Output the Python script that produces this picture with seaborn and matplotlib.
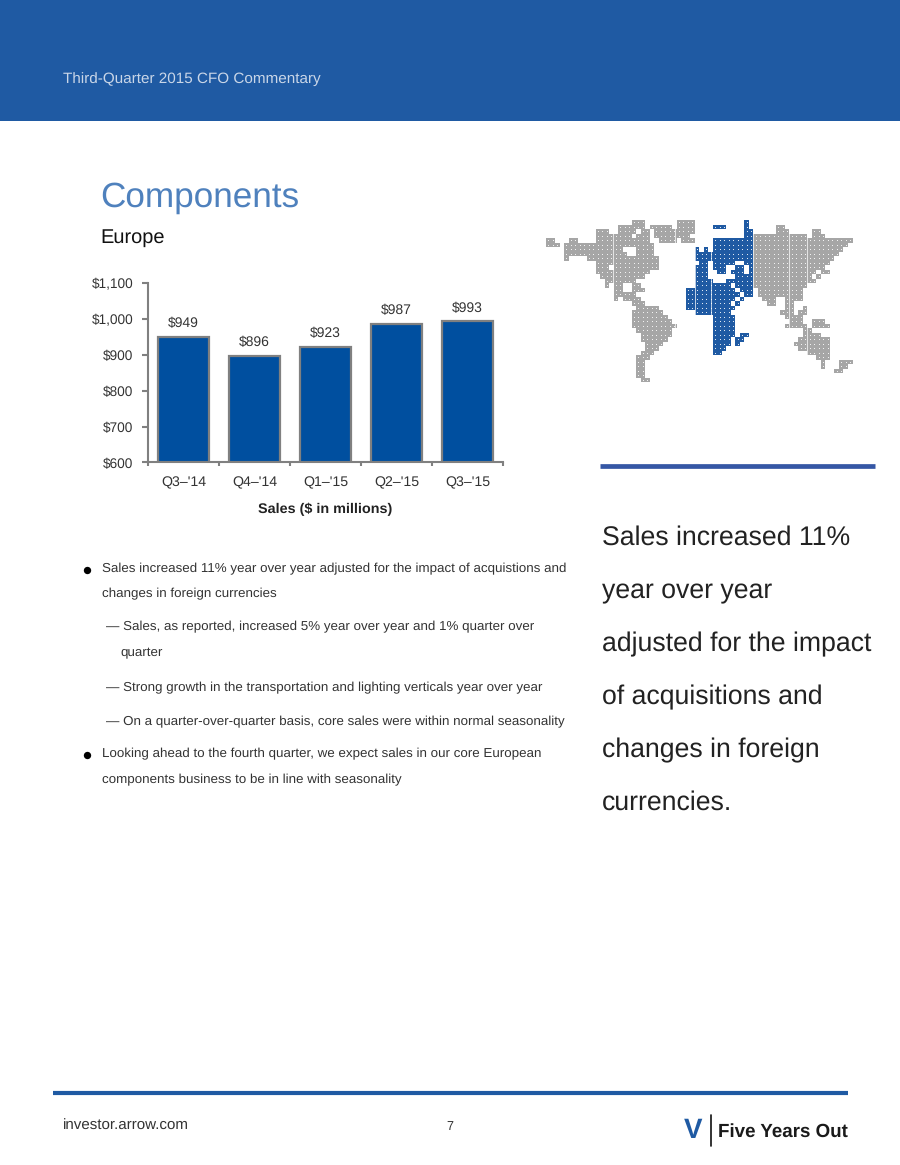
import numpy as np
import pandas as pd
import seaborn as sns
import matplotlib.pyplot as plt
from matplotlib.colors import ListedColormap

quarters = ["Q3\u2013'14", "Q4\u2013'14", "Q1\u2013'15", "Q2\u2013'15", "Q3\u2013'15"]
sales = [949, 896, 923, 987, 993]
yticks = [600, 700, 800, 900, 1000, 1100]

bullets = [
    (102, 569, "Sales increased 11% year over year adjusted for the impact of acquistions and"),
    (102, 594, "changes in foreign currencies"),
    (106, 627, "\u2014 Sales, as reported, increased 5% year over year and 1% quarter over"),
    (120, 653, "quarter"),
    (106, 688, "\u2014 Strong growth in the transportation and lighting verticals year over year"),
    (106, 722, "\u2014 On a quarter-over-quarter basis, core sales were within normal seasonality"),
    (102, 754, "Looking ahead to the fourth quarter, we expect sales in our core European"),
    (102, 780, "components business to be in line with seasonality"),
]
side_lines = ["Sales increased 11%", "year over year", "adjusted for the impact",
              "of acquisitions and", "changes in foreign", "currencies."]

# dot map, spans of columns per row
map_gray = [
    [(19, 21), (29, 32)],
    [(16, 21), (23, 27), (29, 32), (51, 52)],
    [(11, 13), (16, 19), (21, 22), (24, 32), (51, 53), (59, 60)],
    [(11, 14), (15, 18), (20, 22), (24, 31), (46, 53), (54, 57), (59, 61)],
    [(0, 1), (5, 6), (11, 22), (25, 28), (30, 32), (46, 57), (58, 67)],
    [(0, 2), (4, 6), (7, 10), (11, 23), (46, 66)],
    [(4, 10), (11, 16), (20, 23), (46, 65)],
    [(4, 10), (11, 17), (20, 23), (46, 64)],
    [(4, 4), (9, 10), (11, 24), (46, 63)],
    [(11, 24), (46, 62)],
    [(11, 13), (15, 24), (46, 61)],
    [(11, 14), (15, 22), (46, 59), (61, 62)],
    [(12, 14), (15, 21), (46, 58), (60, 60)],
    [(13, 14), (15, 19), (46, 57), (58, 59)],
    [(13, 13), (15, 16), (19, 20), (46, 57)],
    [(15, 16), (19, 21), (47, 56)],
    [(15, 17), (18, 19), (47, 50), (51, 56)],
    [(15, 15), (17, 20), (48, 50), (53, 56)],
    [(19, 21), (49, 50), (53, 54)],
    [(20, 24), (53, 54), (57, 57)],
    [(19, 25), (52, 54), (56, 57)],
    [(19, 26), (53, 56)],
    [(19, 27), (54, 56), (59, 61)],
    [(19, 28), (53, 57), (59, 62)],
    [(20, 27), (57, 58)],
    [(21, 27), (57, 60)],
    [(21, 26), (56, 62)],
    [(22, 25), (55, 62)],
    [(22, 24), (56, 62)],
    [(21, 23), (58, 62)],
    [(20, 22), (60, 62)],
    [(20, 21), (61, 61), (65, 67)],
    [(20, 21), (61, 61), (65, 66)],
    [(20, 21), (64, 65)],
    [(20, 21)],
    [(21, 22)],
]
map_blue = [
    [(44, 44)],
    [(37, 39), (44, 44)],
    [(44, 45)],
    [(44, 45)],
    [(37, 45)],
    [(37, 45)],
    [(33, 33), (35, 35), (37, 45)],
    [(33, 34), (35, 45)],
    [(33, 34), (35, 45)],
    [(34, 35), (37, 41), (44, 45)],
    [(33, 35), (37, 39), (42, 43), (45, 45)],
    [(33, 35), (38, 39), (41, 43), (45, 45)],
    [(33, 35), (42, 45)],
    [(33, 36), (40, 45)],
    [(33, 40), (42, 45)],
    [(31, 41), (43, 45)],
    [(31, 42), (44, 45)],
    [(31, 41), (43, 43)],
    [(31, 40), (42, 42)],
    [(31, 41)],
    [(33, 36), (37, 40)],
    [(37, 41)],
    [(37, 41)],
    [(37, 41)],
    [(37, 41)],
    [(37, 41), (43, 44)],
    [(37, 40), (42, 43)],
    [(37, 40), (42, 42)],
    [(37, 39)],
    [(37, 38)],
]
map_seams = [14.9, 28.6, 33, 36.6, 46, 54, 58]

BLUE = "#004F9F"
HEADER = "#1F5AA3"
GRAY = "#808080"
sns.set_style("white")
plt.rcParams['font.family'] = ['Liberation Sans', 'DejaVu Sans']
plt.rcParams['text.hinting'] = 'no_hinting'

W, H = 900, 1165
fig = plt.figure(figsize=(W / 100, H / 100), dpi=100, facecolor="white")

# page layer in pixel coordinates
page = fig.add_axes([0, 0, 1, 1])
page.set_xlim(0, W)
page.set_ylim(H, 0)
page.axis("off")
page.axhspan(0, 120.5, color=HEADER, lw=0)
page.text(63, 79, "Third-Quarter 2015 CFO Commentary", color="#C9D6E8", fontsize=11, va="center")
page.text(100, 198, "Components", color="#4F81BD", fontsize=25.3, va="center")
page.text(100, 238, "Europe", color="#111111", fontsize=14.4, va="center")
page.text(325, 509, "Sales ($ in millions)", color="#222222", fontsize=10.4, weight="bold", ha="center", va="center")

for x, y, txt in bullets:
    page.text(x, y, txt, color="#333333", fontsize=9.6, va="center")
page.scatter([87, 87], [570, 755], s=28, color="black", lw=0)

for i, line in enumerate(side_lines):
    page.text(602, 538 + i * 53, line, color="#222222", fontsize=19.15, va="center")
page.plot([600, 875], [466, 466], color="#3557A5", lw=3.4, solid_capstyle="butt")

page.plot([53, 848], [1093, 1093], color=HEADER, lw=3, solid_capstyle="butt")
page.text(63, 1126, "investor.arrow.com", color="#333333", fontsize=10.9, va="center")
page.text(450, 1127, "7", color="#333333", fontsize=9, ha="center", va="center")
page.text(693, 1131, "V", color=HEADER, fontsize=20, weight="bold", ha="center", va="center")
page.plot([711, 711], [1115, 1146], color="#111111", lw=1.2)
page.text(718, 1132, "Five Years Out", color="#1A1A1A", fontsize=13.5, weight="bold", va="center")

# bar chart
ax = fig.add_axes([148 / W, 1 - 462.5 / H, 355 / W, 179.5 / H])
df = pd.DataFrame({"quarter": quarters, "sales": sales})
sns.barplot(data=df, x="quarter", y="sales", color=BLUE, saturation=1, width=0.73,
            edgecolor=GRAY, linewidth=1.6, ax=ax)
ax.set_ylim(600, 1100)
ax.set_xlim(-0.5, 4.5)
ax.set_yticks(yticks, [f"${v:,}" for v in yticks])
ax.set_xticks(np.arange(-0.5, 5), [""] * 6)
ax.set_xticks(range(5), quarters, minor=True)
ax.tick_params(axis="x", which="major", length=3, width=1.5, color=GRAY, bottom=True)
ax.tick_params(axis="x", which="minor", length=0, labelsize=10.2, labelcolor="#333333", pad=10)
ax.tick_params(axis="y", length=4, width=1.5, color=GRAY, left=True, labelsize=9.8, labelcolor="#333333", pad=6.5)
ax.set_xlabel("")
ax.set_ylabel("")
for s in ["top", "right"]:
    ax.spines[s].set_visible(False)
for s in ["left", "bottom"]:
    ax.spines[s].set_color(GRAY)
    ax.spines[s].set_linewidth(1.5)
ax.bar_label(ax.containers[0], labels=[f"${v}" for v in sales], padding=5, fontsize=10, color="#333333")

# dot map
grid = np.zeros((36, 68))
for code, rows in ((1, map_gray), (2, map_blue)):
    for r, spans in enumerate(rows):
        for a, b in spans:
            grid[r, a:b + 1] = code
mp = fig.add_axes([546 / W, 1 - 382 / H, 306.5 / W, 162 / H])
sns.heatmap(grid, cmap=ListedColormap(["white", "#A6A6A6", "#1F5AA3"]), vmin=0, vmax=2,
            cbar=False, xticklabels=False, yticklabels=False, ax=mp)
rr, cc = np.nonzero(grid)
mp.scatter(cc + 0.5, rr + 0.5, s=0.6, color="white", lw=0)
for c in map_seams:
    mp.axvline(c, color="white", lw=0.5)
mp.set_xlabel("")
mp.set_ylabel("")

plt.savefig("out.png", dpi=100)
